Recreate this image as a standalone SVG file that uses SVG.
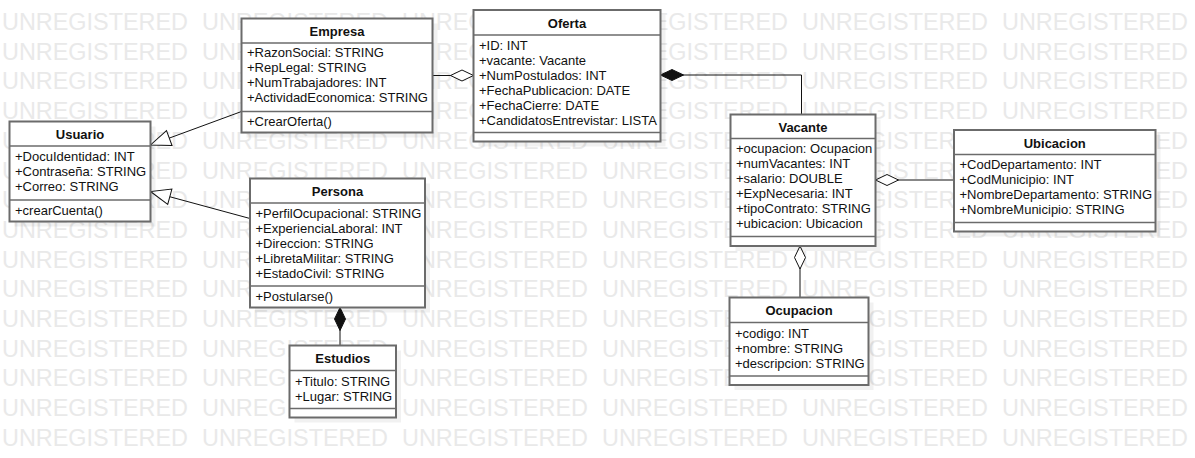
<svg xmlns="http://www.w3.org/2000/svg" width="1195" height="458" viewBox="0 0 1195 458">
<style>
.wm{font-family:"Liberation Sans",Arial,sans-serif;font-size:23px;fill:#e9e9e9}
.box{fill:#fff;stroke:#6b6b6b;stroke-width:2}
.sh{fill:#000;fill-opacity:0.055}
.sep{stroke:#6b6b6b;stroke-width:1.6}
.t{font-family:"Liberation Sans",Arial,sans-serif;font-size:13px;fill:#111}
.h{font-family:"Liberation Sans",Arial,sans-serif;font-size:13px;font-weight:bold;fill:#111;text-anchor:middle}
.ln{fill:none;stroke:#111;stroke-width:1}
</style>
<defs>
<g id="wmrow">
<text class="wm" x="2" y="0" textLength="186" lengthAdjust="spacingAndGlyphs">UNREGISTERED</text>
<text class="wm" x="202" y="0" textLength="186" lengthAdjust="spacingAndGlyphs">UNREGISTERED</text>
<text class="wm" x="402" y="0" textLength="186" lengthAdjust="spacingAndGlyphs">UNREGISTERED</text>
<text class="wm" x="602" y="0" textLength="186" lengthAdjust="spacingAndGlyphs">UNREGISTERED</text>
<text class="wm" x="802" y="0" textLength="186" lengthAdjust="spacingAndGlyphs">UNREGISTERED</text>
<text class="wm" x="1002" y="0" textLength="186" lengthAdjust="spacingAndGlyphs">UNREGISTERED</text>
</g>
<marker id="tri" markerUnits="userSpaceOnUse" markerWidth="24" markerHeight="20" refX="21" refY="9" orient="auto" overflow="visible">
<path d="M1,1 L21,9 L1,17 Z" fill="#fff" stroke="#111" stroke-width="1"/>
</marker>
<marker id="odia" markerUnits="userSpaceOnUse" markerWidth="26" markerHeight="16" refX="1" refY="7" orient="auto" overflow="visible">
<path d="M1,7 L12.5,1.5 L24,7 L12.5,12.5 Z" fill="#fff" stroke="#111" stroke-width="1"/>
</marker>
<marker id="fdia" markerUnits="userSpaceOnUse" markerWidth="26" markerHeight="16" refX="1" refY="7" orient="auto" overflow="visible">
<path d="M1,7 L12.5,1.5 L24,7 L12.5,12.5 Z" fill="#111" stroke="#111" stroke-width="1"/>
</marker>
</defs>
<rect width="1195" height="458" fill="#fff"/>
<g id="watermark">
<use href="#wmrow" y="30"/>
<use href="#wmrow" y="59.7"/>
<use href="#wmrow" y="89.4"/>
<use href="#wmrow" y="119.1"/>
<use href="#wmrow" y="148.8"/>
<use href="#wmrow" y="178.5"/>
<use href="#wmrow" y="208.2"/>
<use href="#wmrow" y="237.9"/>
<use href="#wmrow" y="267.6"/>
<use href="#wmrow" y="297.3"/>
<use href="#wmrow" y="327"/>
<use href="#wmrow" y="356.7"/>
<use href="#wmrow" y="386.4"/>
<use href="#wmrow" y="416.1"/>
<use href="#wmrow" y="445.8"/>
</g>
<g id="connectors">
<path class="ln" d="M241.5,111.5 L150.5,145" marker-end="url(#tri)"/>
<path class="ln" d="M250,218.5 L150.5,191.5" marker-end="url(#tri)"/>
<path class="ln" d="M473.5,75.5 L432.5,75.5" marker-start="url(#odia)"/>
<path class="ln" d="M660.5,75 L801.5,75 L801.5,114.5" marker-start="url(#fdia)"/>
<path class="ln" d="M875.5,180 L954,180" marker-start="url(#odia)"/>
<path class="ln" d="M800,246 L800,297.5" marker-start="url(#odia)"/>
<path class="ln" d="M340,307.5 L340,345.5" marker-start="url(#fdia)"/>
</g>
<g id="Usuario">
<rect class="sh" x="14.5" y="126.5" width="141" height="100"/>
<rect class="box" x="9.5" y="121.5" width="141" height="100"/>
<line class="sep" x1="9.5" y1="146" x2="150.5" y2="146"/>
<line class="sep" x1="9.5" y1="200" x2="150.5" y2="200"/>
<text class="h" x="80" y="139">Usuario</text>
<text class="t" x="15" y="161">+DocuIdentidad: INT</text>
<text class="t" x="15" y="176">+Contraseña: STRING</text>
<text class="t" x="15" y="191">+Correo: STRING</text>
<text class="t" x="15" y="214.5">+crearCuenta()</text>
</g>
<g id="Empresa">
<rect class="sh" x="246.5" y="23.5" width="191" height="114"/>
<rect class="box" x="241.5" y="18.5" width="191" height="114"/>
<line class="sep" x1="241.5" y1="43" x2="432.5" y2="43"/>
<line class="sep" x1="241.5" y1="111.5" x2="432.5" y2="111.5"/>
<text class="h" x="337" y="36">Empresa</text>
<text class="t" x="247" y="57">+RazonSocial: STRING</text>
<text class="t" x="247" y="72">+RepLegal: STRING</text>
<text class="t" x="247" y="87">+NumTrabajadores: INT</text>
<text class="t" x="247" y="102">+ActividadEconomica: STRING</text>
<text class="t" x="247" y="126">+CrearOferta()</text>
</g>
<g id="Oferta">
<rect class="sh" x="478.5" y="15" width="187" height="131.5"/>
<rect class="box" x="473.5" y="10" width="187" height="131.5"/>
<line class="sep" x1="473.5" y1="35" x2="660.5" y2="35"/>
<line class="sep" x1="473.5" y1="132.5" x2="660.5" y2="132.5"/>
<text class="h" x="567" y="27.5">Oferta</text>
<text class="t" x="479" y="49.5">+ID: INT</text>
<text class="t" x="479" y="64.5">+vacante: Vacante</text>
<text class="t" x="479" y="79.5">+NumPostulados: INT</text>
<text class="t" x="479" y="94.5">+FechaPublicacion: DATE</text>
<text class="t" x="479" y="109.5">+FechaCierre: DATE</text>
<text class="t" x="479" y="124.5">+CandidatosEntrevistar: LISTA</text>
</g>
<g id="Vacante">
<rect class="sh" x="735.5" y="119.5" width="145" height="131.5"/>
<rect class="box" x="730.5" y="114.5" width="145" height="131.5"/>
<line class="sep" x1="730.5" y1="138.5" x2="875.5" y2="138.5"/>
<line class="sep" x1="730.5" y1="236.5" x2="875.5" y2="236.5"/>
<text class="h" x="803" y="132">Vacante</text>
<text class="t" x="736" y="153">+ocupacion: Ocupacion</text>
<text class="t" x="736" y="168">+numVacantes: INT</text>
<text class="t" x="736" y="183">+salario: DOUBLE</text>
<text class="t" x="736" y="198">+ExpNecesaria: INT</text>
<text class="t" x="736" y="213">+tipoContrato: STRING</text>
<text class="t" x="736" y="228">+ubicacion: Ubicacion</text>
</g>
<g id="Ubicacion">
<rect class="sh" x="959" y="135" width="201.5" height="101.5"/>
<rect class="box" x="954" y="130" width="201.5" height="101.5"/>
<line class="sep" x1="954" y1="154.5" x2="1155.5" y2="154.5"/>
<line class="sep" x1="954" y1="222.5" x2="1155.5" y2="222.5"/>
<text class="h" x="1054.75" y="147.5">Ubicacion</text>
<text class="t" x="959.5" y="169">+CodDepartamento: INT</text>
<text class="t" x="959.5" y="184">+CodMunicipio: INT</text>
<text class="t" x="959.5" y="199">+NombreDepartamento: STRING</text>
<text class="t" x="959.5" y="214">+NombreMunicipio: STRING</text>
</g>
<g id="Ocupacion">
<rect class="sh" x="734.5" y="302.5" width="139" height="87.5"/>
<rect class="box" x="729.5" y="297.5" width="139" height="87.5"/>
<line class="sep" x1="729.5" y1="322.5" x2="868.5" y2="322.5"/>
<line class="sep" x1="729.5" y1="376" x2="868.5" y2="376"/>
<text class="h" x="799" y="315">Ocupacion</text>
<text class="t" x="735" y="337.5">+codigo: INT</text>
<text class="t" x="735" y="352.5">+nombre: STRING</text>
<text class="t" x="735" y="367.5">+descripcion: STRING</text>
</g>
<g id="Persona">
<rect class="sh" x="255" y="183.5" width="175" height="129"/>
<rect class="box" x="250" y="178.5" width="175" height="129"/>
<line class="sep" x1="250" y1="203" x2="425" y2="203"/>
<line class="sep" x1="250" y1="286" x2="425" y2="286"/>
<text class="h" x="337.5" y="195.5">Persona</text>
<text class="t" x="255.5" y="217.5">+PerfilOcupacional: STRING</text>
<text class="t" x="255.5" y="232.5">+ExperienciaLaboral: INT</text>
<text class="t" x="255.5" y="247.5">+Direccion: STRING</text>
<text class="t" x="255.5" y="262.5">+LibretaMilitar: STRING</text>
<text class="t" x="255.5" y="277.5">+EstadoCivil: STRING</text>
<text class="t" x="255.5" y="300.5">+Postularse()</text>
</g>
<g id="Estudios">
<rect class="sh" x="294.5" y="350.5" width="106.5" height="72"/>
<rect class="box" x="289.5" y="345.5" width="106.5" height="72"/>
<line class="sep" x1="289.5" y1="370.5" x2="396" y2="370.5"/>
<line class="sep" x1="289.5" y1="408.5" x2="396" y2="408.5"/>
<text class="h" x="342.75" y="362.5">Estudios</text>
<text class="t" x="295" y="386">+Titulo: STRING</text>
<text class="t" x="295" y="401">+Lugar: STRING</text>
</g>
</svg>
